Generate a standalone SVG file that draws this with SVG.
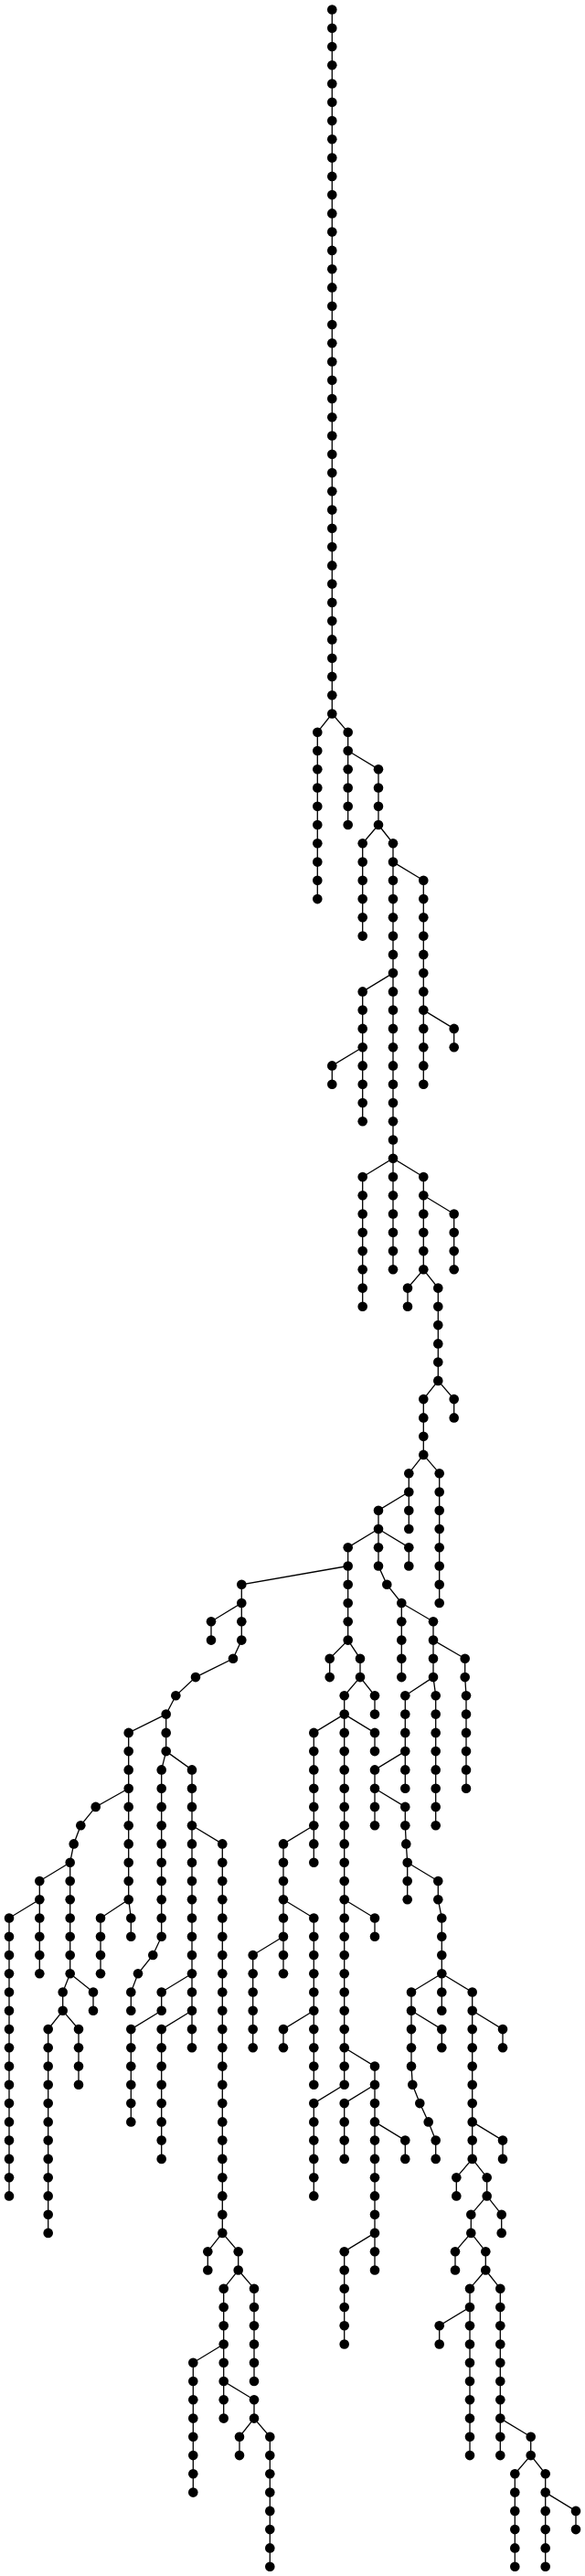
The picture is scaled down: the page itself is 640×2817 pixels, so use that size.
<svg xmlns="http://www.w3.org/2000/svg" width="640" height="2817" viewBox="0 0 640 2817">
<style>
.edges path{fill:none;stroke:#000;stroke-width:1.3}
.nodes circle{fill:#000;stroke:none}
</style>
<rect width="640" height="2817" fill="#fff"/>
<g class="edges" id="connectors">
<path d="M363.3 10.5V780.5"/>
<path d="M363.3 780.5L347.3 800.7V983.1"/>
<path d="M363.3 780.5L380.7 800.7V902"/>
<path d="M380.7 821L414 841.2V902"/>
<path d="M414 902L396.7 922.3V1023.6"/>
<path d="M414 902L430 922.3V1266.7"/>
<path d="M430 942.6L463.3 962.8V1185.7"/>
<path d="M463.3 1104.6L496.7 1124.9V1145.2"/>
<path d="M430 1064.1L396.7 1084.4V1226.2"/>
<path d="M396.7 1145.2L363.3 1165.4V1185.7"/>
<path d="M430 1266.7L396.7 1287V1428.8"/>
<path d="M430 1266.7V1388.3"/>
<path d="M430 1266.7L463.3 1287V1388.3"/>
<path d="M463.3 1307.3L496.7 1327.5V1388.3"/>
<path d="M463.3 1388.3L446 1408.6V1428.8"/>
<path d="M463.3 1388.3L479.3 1408.6V1509.9"/>
<path d="M479.3 1509.9L463.3 1530.1V1590.9"/>
<path d="M479.3 1509.9L496.7 1530.1V1550.4"/>
<path d="M463.3 1590.9L447.3 1611.2V1672"/>
<path d="M463.3 1590.9L480.7 1611.2V1753"/>
<path d="M447.3 1631.5L414 1651.7V1672"/>
<path d="M414 1672L380.7 1692.2V1793.6"/>
<path d="M414 1672V1712.5L423.3 1732.8L439.3 1753V1834.1"/>
<path d="M414 1672L447.3 1692.2V1712.5"/>
<path d="M439.3 1753L474 1773.3V1834.1"/>
<path d="M474 1793.6L508.7 1813.8V1834.1L510 1854.3V1955.7"/>
<path d="M474 1834.1L443.3 1854.3V1955.7"/>
<path d="M474 1834.1L476.7 1854.3V1996.2"/>
<path d="M443.3 1915.1L410 1935.4V1996.2"/>
<path d="M410 1955.7L443.3 1975.9V1996.2L444.3 2016.4L445.7 2036.7V2077.2"/>
<path d="M445.7 2036.7L479.3 2057V2077.2L483.3 2097.5V2158.3"/>
<path d="M380.7 1793.6L360.7 1813.8V1834.1"/>
<path d="M380.7 1793.6L394 1813.8V1834.1"/>
<path d="M394 1834.1L376.7 1854.3V1874.6"/>
<path d="M394 1834.1L410 1854.3V1874.6"/>
<path d="M376.7 1874.6L343.3 1894.9V2036.7"/>
<path d="M376.7 1874.6V2279.8"/>
<path d="M376.7 1874.6L410 1894.9V1915.1"/>
<path d="M343.3 1996.2L310 2016.4V2158.3"/>
<path d="M380.7 1712.5L264.3 1732.8V1793.6L255 1813.8L214 1834.1L192.3 1854.3L181.7 1874.6V1915.1"/>
<path d="M264.3 1753L231 1773.3V1793.6"/>
<path d="M181.7 1874.6L140.7 1894.9V2077.2"/>
<path d="M181.7 1915.1L176.7 1935.4V2117.7L167.3 2138L151 2158.3L143.3 2178.5V2198.8"/>
<path d="M181.7 1915.1L210 1935.4V2239.3"/>
<path d="M210 1996.2L243.3 2016.4V2441.9"/>
<path d="M140.7 1955.7L104.7 1975.9L88.3 1996.2L80.7 2016.4L76.7 2036.7V2158.3"/>
<path d="M76.7 2036.7L43.3 2057V2158.3"/>
<path d="M43.3 2077.2L10 2097.5V2401.4"/>
<path d="M76.7 2158.3L68.7 2178.5V2198.8"/>
<path d="M76.7 2158.3L102 2178.5V2198.8"/>
<path d="M68.7 2198.8L52.7 2219.1V2441.9"/>
<path d="M68.7 2198.8L86 2219.1V2279.8"/>
<path d="M140.7 2077.2L110 2097.5V2158.3"/>
<path d="M140.7 2077.2L143.3 2097.5V2117.7"/>
<path d="M210 2158.3L176.7 2178.5V2198.8"/>
<path d="M176.7 2198.8L143.3 2219.1V2320.4"/>
<path d="M210 2198.8L176.7 2219.1V2360.9"/>
<path d="M310 2077.2L343.3 2097.5V2279.8"/>
<path d="M310 2117.7L276.7 2138V2239.3"/>
<path d="M343.3 2198.8L310 2219.1V2239.3"/>
<path d="M376.7 2077.2L410 2097.5V2117.7"/>
<path d="M376.7 2239.3L410 2259.6V2482.5"/>
<path d="M376.7 2279.8L343.3 2300.1V2401.4"/>
<path d="M410 2279.8L376.7 2300.1V2360.9"/>
<path d="M410 2320.4L443.3 2340.6V2360.9"/>
<path d="M410 2441.9L376.7 2462.2V2563.5"/>
<path d="M483.3 2158.3L450 2178.5V2259.6L451.3 2279.8L459.3 2300.1L468.7 2320.4L476.7 2340.6V2360.9"/>
<path d="M450 2198.8L483.3 2219.1V2239.3"/>
<path d="M483.3 2158.3V2198.8"/>
<path d="M483.3 2158.3L516.7 2178.5V2360.9"/>
<path d="M516.7 2198.8L550 2219.1V2239.3"/>
<path d="M516.7 2320.4L550 2340.6V2360.9"/>
<path d="M516.7 2360.9L499.3 2381.2V2401.4"/>
<path d="M516.7 2360.9L532.7 2381.2V2401.4"/>
<path d="M532.7 2401.4L515.3 2421.7V2441.9"/>
<path d="M532.7 2401.4L548.7 2421.7V2441.9"/>
<path d="M515.3 2441.9L498 2462.2V2482.5"/>
<path d="M515.3 2441.9L531.3 2462.2V2482.5"/>
<path d="M531.3 2482.5L514 2502.7V2685.1"/>
<path d="M514 2523L480.7 2543.2V2563.5"/>
<path d="M531.3 2482.5L547.3 2502.7V2685.1"/>
<path d="M547.3 2644.6L580.7 2664.8V2685.1"/>
<path d="M580.7 2685.1L563.3 2705.3V2806.7"/>
<path d="M580.7 2685.1L596.7 2705.3V2806.7"/>
<path d="M596.7 2725.6L630 2745.9V2766.1"/>
<path d="M243.3 2441.9L227.3 2462.2V2482.5"/>
<path d="M243.3 2441.9L260.7 2462.2V2482.5"/>
<path d="M260.7 2482.5L244.7 2502.7V2644.6"/>
<path d="M260.7 2482.5L278 2502.7V2604"/>
<path d="M244.7 2563.5L211.3 2583.8V2725.6"/>
<path d="M244.7 2604L278 2624.3V2644.6"/>
<path d="M278 2644.6L262 2664.8V2685.1"/>
<path d="M278 2644.6L295.3 2664.8V2806.7"/>
</g>
<g class="nodes" id="nodes">
<g id="n1"><circle cx="363.3" cy="10.5" r="5.3"/></g>
<g id="n2"><circle cx="363.3" cy="30.8" r="5.3"/></g>
<g id="n3"><circle cx="363.3" cy="51" r="5.3"/></g>
<g id="n4"><circle cx="363.3" cy="71.3" r="5.3"/></g>
<g id="n5"><circle cx="363.3" cy="91.5" r="5.3"/></g>
<g id="n6"><circle cx="363.3" cy="111.8" r="5.3"/></g>
<g id="n7"><circle cx="363.3" cy="132.1" r="5.3"/></g>
<g id="n8"><circle cx="363.3" cy="152.3" r="5.3"/></g>
<g id="n9"><circle cx="363.3" cy="172.6" r="5.3"/></g>
<g id="n10"><circle cx="363.3" cy="192.9" r="5.3"/></g>
<g id="n11"><circle cx="363.3" cy="213.1" r="5.3"/></g>
<g id="n12"><circle cx="363.3" cy="233.4" r="5.3"/></g>
<g id="n13"><circle cx="363.3" cy="253.6" r="5.3"/></g>
<g id="n14"><circle cx="363.3" cy="273.9" r="5.3"/></g>
<g id="n15"><circle cx="363.3" cy="294.2" r="5.3"/></g>
<g id="n16"><circle cx="363.3" cy="314.4" r="5.3"/></g>
<g id="n17"><circle cx="363.3" cy="334.7" r="5.3"/></g>
<g id="n18"><circle cx="363.3" cy="355" r="5.3"/></g>
<g id="n19"><circle cx="363.3" cy="375.2" r="5.3"/></g>
<g id="n20"><circle cx="363.3" cy="395.5" r="5.3"/></g>
<g id="n21"><circle cx="363.3" cy="415.7" r="5.3"/></g>
<g id="n22"><circle cx="363.3" cy="436" r="5.3"/></g>
<g id="n23"><circle cx="363.3" cy="456.3" r="5.3"/></g>
<g id="n24"><circle cx="363.3" cy="476.5" r="5.3"/></g>
<g id="n25"><circle cx="363.3" cy="496.8" r="5.3"/></g>
<g id="n26"><circle cx="363.3" cy="517.1" r="5.3"/></g>
<g id="n27"><circle cx="363.3" cy="537.3" r="5.3"/></g>
<g id="n28"><circle cx="363.3" cy="557.6" r="5.3"/></g>
<g id="n29"><circle cx="363.3" cy="577.8" r="5.3"/></g>
<g id="n30"><circle cx="363.3" cy="598.1" r="5.3"/></g>
<g id="n31"><circle cx="363.3" cy="618.4" r="5.3"/></g>
<g id="n32"><circle cx="363.3" cy="638.6" r="5.3"/></g>
<g id="n33"><circle cx="363.3" cy="658.9" r="5.3"/></g>
<g id="n34"><circle cx="363.3" cy="679.1" r="5.3"/></g>
<g id="n35"><circle cx="363.3" cy="699.4" r="5.3"/></g>
<g id="n36"><circle cx="363.3" cy="719.7" r="5.3"/></g>
<g id="n37"><circle cx="363.3" cy="739.9" r="5.3"/></g>
<g id="n38"><circle cx="363.3" cy="760.2" r="5.3"/></g>
<g id="n39"><circle cx="363.3" cy="780.5" r="5.3"/></g>
<g id="n40"><circle cx="347.3" cy="800.7" r="5.3"/></g>
<g id="n41"><circle cx="347.3" cy="821" r="5.3"/></g>
<g id="n42"><circle cx="347.3" cy="841.2" r="5.3"/></g>
<g id="n43"><circle cx="347.3" cy="861.5" r="5.3"/></g>
<g id="n44"><circle cx="347.3" cy="881.8" r="5.3"/></g>
<g id="n45"><circle cx="347.3" cy="902" r="5.3"/></g>
<g id="n46"><circle cx="347.3" cy="922.3" r="5.3"/></g>
<g id="n47"><circle cx="347.3" cy="942.6" r="5.3"/></g>
<g id="n48"><circle cx="347.3" cy="962.8" r="5.3"/></g>
<g id="n49"><circle cx="347.3" cy="983.1" r="5.3"/></g>
<g id="n50"><circle cx="380.7" cy="800.7" r="5.3"/></g>
<g id="n51"><circle cx="380.7" cy="821" r="5.3"/></g>
<g id="n52"><circle cx="380.7" cy="841.2" r="5.3"/></g>
<g id="n53"><circle cx="380.7" cy="861.5" r="5.3"/></g>
<g id="n54"><circle cx="380.7" cy="881.8" r="5.3"/></g>
<g id="n55"><circle cx="380.7" cy="902" r="5.3"/></g>
<g id="n56"><circle cx="414" cy="841.2" r="5.3"/></g>
<g id="n57"><circle cx="414" cy="861.5" r="5.3"/></g>
<g id="n58"><circle cx="414" cy="881.8" r="5.3"/></g>
<g id="n59"><circle cx="414" cy="902" r="5.3"/></g>
<g id="n60"><circle cx="396.7" cy="922.3" r="5.3"/></g>
<g id="n61"><circle cx="396.7" cy="942.6" r="5.3"/></g>
<g id="n62"><circle cx="396.7" cy="962.8" r="5.3"/></g>
<g id="n63"><circle cx="396.7" cy="983.1" r="5.3"/></g>
<g id="n64"><circle cx="396.7" cy="1003.3" r="5.3"/></g>
<g id="n65"><circle cx="396.7" cy="1023.6" r="5.3"/></g>
<g id="n66"><circle cx="430" cy="922.3" r="5.3"/></g>
<g id="n67"><circle cx="430" cy="942.6" r="5.3"/></g>
<g id="n68"><circle cx="430" cy="962.8" r="5.3"/></g>
<g id="n69"><circle cx="430" cy="983.1" r="5.3"/></g>
<g id="n70"><circle cx="430" cy="1003.3" r="5.3"/></g>
<g id="n71"><circle cx="430" cy="1023.6" r="5.3"/></g>
<g id="n72"><circle cx="430" cy="1043.9" r="5.3"/></g>
<g id="n73"><circle cx="430" cy="1064.1" r="5.3"/></g>
<g id="n74"><circle cx="430" cy="1084.4" r="5.3"/></g>
<g id="n75"><circle cx="430" cy="1104.6" r="5.3"/></g>
<g id="n76"><circle cx="430" cy="1124.9" r="5.3"/></g>
<g id="n77"><circle cx="430" cy="1145.2" r="5.3"/></g>
<g id="n78"><circle cx="430" cy="1165.4" r="5.3"/></g>
<g id="n79"><circle cx="430" cy="1185.7" r="5.3"/></g>
<g id="n80"><circle cx="430" cy="1206" r="5.3"/></g>
<g id="n81"><circle cx="430" cy="1226.2" r="5.3"/></g>
<g id="n82"><circle cx="430" cy="1246.5" r="5.3"/></g>
<g id="n83"><circle cx="430" cy="1266.7" r="5.3"/></g>
<g id="n84"><circle cx="463.3" cy="962.8" r="5.3"/></g>
<g id="n85"><circle cx="463.3" cy="983.1" r="5.3"/></g>
<g id="n86"><circle cx="463.3" cy="1003.3" r="5.3"/></g>
<g id="n87"><circle cx="463.3" cy="1023.6" r="5.3"/></g>
<g id="n88"><circle cx="463.3" cy="1043.9" r="5.3"/></g>
<g id="n89"><circle cx="463.3" cy="1064.1" r="5.3"/></g>
<g id="n90"><circle cx="463.3" cy="1084.4" r="5.3"/></g>
<g id="n91"><circle cx="463.3" cy="1104.6" r="5.3"/></g>
<g id="n92"><circle cx="463.3" cy="1124.9" r="5.3"/></g>
<g id="n93"><circle cx="463.3" cy="1145.2" r="5.3"/></g>
<g id="n94"><circle cx="463.3" cy="1165.4" r="5.3"/></g>
<g id="n95"><circle cx="463.3" cy="1185.7" r="5.3"/></g>
<g id="n96"><circle cx="496.7" cy="1124.9" r="5.3"/></g>
<g id="n97"><circle cx="496.7" cy="1145.2" r="5.3"/></g>
<g id="n98"><circle cx="396.7" cy="1084.4" r="5.3"/></g>
<g id="n99"><circle cx="396.7" cy="1104.6" r="5.3"/></g>
<g id="n100"><circle cx="396.7" cy="1124.9" r="5.3"/></g>
<g id="n101"><circle cx="396.7" cy="1145.2" r="5.3"/></g>
<g id="n102"><circle cx="396.7" cy="1165.4" r="5.3"/></g>
<g id="n103"><circle cx="396.7" cy="1185.7" r="5.3"/></g>
<g id="n104"><circle cx="396.7" cy="1206" r="5.3"/></g>
<g id="n105"><circle cx="396.7" cy="1226.2" r="5.3"/></g>
<g id="n106"><circle cx="363.3" cy="1165.4" r="5.3"/></g>
<g id="n107"><circle cx="363.3" cy="1185.7" r="5.3"/></g>
<g id="n108"><circle cx="396.7" cy="1287" r="5.3"/></g>
<g id="n109"><circle cx="396.7" cy="1307.3" r="5.3"/></g>
<g id="n110"><circle cx="396.7" cy="1327.5" r="5.3"/></g>
<g id="n111"><circle cx="396.7" cy="1347.8" r="5.3"/></g>
<g id="n112"><circle cx="396.7" cy="1368.1" r="5.3"/></g>
<g id="n113"><circle cx="396.7" cy="1388.3" r="5.3"/></g>
<g id="n114"><circle cx="396.7" cy="1408.6" r="5.3"/></g>
<g id="n115"><circle cx="396.7" cy="1428.8" r="5.3"/></g>
<g id="n116"><circle cx="430" cy="1287" r="5.3"/></g>
<g id="n117"><circle cx="430" cy="1307.3" r="5.3"/></g>
<g id="n118"><circle cx="430" cy="1327.5" r="5.3"/></g>
<g id="n119"><circle cx="430" cy="1347.8" r="5.3"/></g>
<g id="n120"><circle cx="430" cy="1368.1" r="5.3"/></g>
<g id="n121"><circle cx="430" cy="1388.3" r="5.3"/></g>
<g id="n122"><circle cx="463.3" cy="1287" r="5.3"/></g>
<g id="n123"><circle cx="463.3" cy="1307.3" r="5.3"/></g>
<g id="n124"><circle cx="463.3" cy="1327.5" r="5.3"/></g>
<g id="n125"><circle cx="463.3" cy="1347.8" r="5.3"/></g>
<g id="n126"><circle cx="463.3" cy="1368.1" r="5.3"/></g>
<g id="n127"><circle cx="463.3" cy="1388.3" r="5.3"/></g>
<g id="n128"><circle cx="496.7" cy="1327.5" r="5.3"/></g>
<g id="n129"><circle cx="496.7" cy="1347.8" r="5.3"/></g>
<g id="n130"><circle cx="496.7" cy="1368.1" r="5.3"/></g>
<g id="n131"><circle cx="496.7" cy="1388.3" r="5.3"/></g>
<g id="n132"><circle cx="446" cy="1408.6" r="5.3"/></g>
<g id="n133"><circle cx="446" cy="1428.8" r="5.3"/></g>
<g id="n134"><circle cx="479.3" cy="1408.6" r="5.3"/></g>
<g id="n135"><circle cx="479.3" cy="1428.8" r="5.3"/></g>
<g id="n136"><circle cx="479.3" cy="1449.1" r="5.3"/></g>
<g id="n137"><circle cx="479.3" cy="1469.4" r="5.3"/></g>
<g id="n138"><circle cx="479.3" cy="1489.6" r="5.3"/></g>
<g id="n139"><circle cx="479.3" cy="1509.9" r="5.3"/></g>
<g id="n140"><circle cx="463.3" cy="1530.1" r="5.3"/></g>
<g id="n141"><circle cx="463.3" cy="1550.4" r="5.3"/></g>
<g id="n142"><circle cx="463.3" cy="1570.7" r="5.3"/></g>
<g id="n143"><circle cx="463.3" cy="1590.9" r="5.3"/></g>
<g id="n144"><circle cx="496.7" cy="1530.1" r="5.3"/></g>
<g id="n145"><circle cx="496.7" cy="1550.4" r="5.3"/></g>
<g id="n146"><circle cx="447.3" cy="1611.2" r="5.3"/></g>
<g id="n147"><circle cx="447.3" cy="1631.5" r="5.3"/></g>
<g id="n148"><circle cx="447.3" cy="1651.7" r="5.3"/></g>
<g id="n149"><circle cx="447.3" cy="1672" r="5.3"/></g>
<g id="n150"><circle cx="480.7" cy="1611.2" r="5.3"/></g>
<g id="n151"><circle cx="480.7" cy="1631.5" r="5.3"/></g>
<g id="n152"><circle cx="480.7" cy="1651.7" r="5.3"/></g>
<g id="n153"><circle cx="480.7" cy="1672" r="5.3"/></g>
<g id="n154"><circle cx="480.7" cy="1692.2" r="5.3"/></g>
<g id="n155"><circle cx="480.7" cy="1712.5" r="5.3"/></g>
<g id="n156"><circle cx="480.7" cy="1732.8" r="5.3"/></g>
<g id="n157"><circle cx="480.7" cy="1753" r="5.3"/></g>
<g id="n158"><circle cx="414" cy="1651.7" r="5.3"/></g>
<g id="n159"><circle cx="414" cy="1672" r="5.3"/></g>
<g id="n160"><circle cx="380.7" cy="1692.2" r="5.3"/></g>
<g id="n161"><circle cx="380.7" cy="1712.5" r="5.3"/></g>
<g id="n162"><circle cx="380.7" cy="1732.8" r="5.3"/></g>
<g id="n163"><circle cx="380.7" cy="1753" r="5.3"/></g>
<g id="n164"><circle cx="380.7" cy="1773.3" r="5.3"/></g>
<g id="n165"><circle cx="380.7" cy="1793.6" r="5.3"/></g>
<g id="n166"><circle cx="414" cy="1692.2" r="5.3"/></g>
<g id="n167"><circle cx="414" cy="1712.5" r="5.3"/></g>
<g id="n168"><circle cx="423.3" cy="1732.8" r="5.3"/></g>
<g id="n169"><circle cx="439.3" cy="1753" r="5.3"/></g>
<g id="n170"><circle cx="439.3" cy="1773.3" r="5.3"/></g>
<g id="n171"><circle cx="439.3" cy="1793.6" r="5.3"/></g>
<g id="n172"><circle cx="439.3" cy="1813.8" r="5.3"/></g>
<g id="n173"><circle cx="439.3" cy="1834.1" r="5.3"/></g>
<g id="n174"><circle cx="447.3" cy="1692.2" r="5.3"/></g>
<g id="n175"><circle cx="447.3" cy="1712.5" r="5.3"/></g>
<g id="n176"><circle cx="474" cy="1773.3" r="5.3"/></g>
<g id="n177"><circle cx="474" cy="1793.6" r="5.3"/></g>
<g id="n178"><circle cx="474" cy="1813.8" r="5.3"/></g>
<g id="n179"><circle cx="474" cy="1834.1" r="5.3"/></g>
<g id="n180"><circle cx="508.7" cy="1813.8" r="5.3"/></g>
<g id="n181"><circle cx="508.7" cy="1834.1" r="5.3"/></g>
<g id="n182"><circle cx="510" cy="1854.3" r="5.3"/></g>
<g id="n183"><circle cx="510" cy="1874.6" r="5.3"/></g>
<g id="n184"><circle cx="510" cy="1894.9" r="5.3"/></g>
<g id="n185"><circle cx="510" cy="1915.1" r="5.3"/></g>
<g id="n186"><circle cx="510" cy="1935.4" r="5.3"/></g>
<g id="n187"><circle cx="510" cy="1955.7" r="5.3"/></g>
<g id="n188"><circle cx="443.3" cy="1854.3" r="5.3"/></g>
<g id="n189"><circle cx="443.3" cy="1874.6" r="5.3"/></g>
<g id="n190"><circle cx="443.3" cy="1894.9" r="5.3"/></g>
<g id="n191"><circle cx="443.3" cy="1915.1" r="5.3"/></g>
<g id="n192"><circle cx="443.3" cy="1935.4" r="5.3"/></g>
<g id="n193"><circle cx="443.3" cy="1955.7" r="5.3"/></g>
<g id="n194"><circle cx="476.7" cy="1854.3" r="5.3"/></g>
<g id="n195"><circle cx="476.7" cy="1874.6" r="5.3"/></g>
<g id="n196"><circle cx="476.7" cy="1894.9" r="5.3"/></g>
<g id="n197"><circle cx="476.7" cy="1915.1" r="5.3"/></g>
<g id="n198"><circle cx="476.7" cy="1935.4" r="5.3"/></g>
<g id="n199"><circle cx="476.7" cy="1955.7" r="5.3"/></g>
<g id="n200"><circle cx="476.7" cy="1975.9" r="5.3"/></g>
<g id="n201"><circle cx="476.7" cy="1996.2" r="5.3"/></g>
<g id="n202"><circle cx="410" cy="1935.4" r="5.3"/></g>
<g id="n203"><circle cx="410" cy="1955.7" r="5.3"/></g>
<g id="n204"><circle cx="410" cy="1975.9" r="5.3"/></g>
<g id="n205"><circle cx="410" cy="1996.2" r="5.3"/></g>
<g id="n206"><circle cx="443.3" cy="1975.9" r="5.3"/></g>
<g id="n207"><circle cx="443.3" cy="1996.2" r="5.3"/></g>
<g id="n208"><circle cx="444.3" cy="2016.4" r="5.3"/></g>
<g id="n209"><circle cx="445.7" cy="2036.7" r="5.3"/></g>
<g id="n210"><circle cx="445.7" cy="2057" r="5.3"/></g>
<g id="n211"><circle cx="445.7" cy="2077.2" r="5.3"/></g>
<g id="n212"><circle cx="479.3" cy="2057" r="5.3"/></g>
<g id="n213"><circle cx="479.3" cy="2077.2" r="5.3"/></g>
<g id="n214"><circle cx="483.3" cy="2097.5" r="5.3"/></g>
<g id="n215"><circle cx="483.3" cy="2117.7" r="5.3"/></g>
<g id="n216"><circle cx="483.3" cy="2138" r="5.3"/></g>
<g id="n217"><circle cx="483.3" cy="2158.3" r="5.3"/></g>
<g id="n218"><circle cx="360.7" cy="1813.8" r="5.3"/></g>
<g id="n219"><circle cx="360.7" cy="1834.1" r="5.3"/></g>
<g id="n220"><circle cx="394" cy="1813.8" r="5.3"/></g>
<g id="n221"><circle cx="394" cy="1834.1" r="5.3"/></g>
<g id="n222"><circle cx="376.7" cy="1854.3" r="5.3"/></g>
<g id="n223"><circle cx="376.7" cy="1874.6" r="5.3"/></g>
<g id="n224"><circle cx="410" cy="1854.3" r="5.3"/></g>
<g id="n225"><circle cx="410" cy="1874.6" r="5.3"/></g>
<g id="n226"><circle cx="343.3" cy="1894.9" r="5.3"/></g>
<g id="n227"><circle cx="343.3" cy="1915.1" r="5.3"/></g>
<g id="n228"><circle cx="343.3" cy="1935.4" r="5.3"/></g>
<g id="n229"><circle cx="343.3" cy="1955.7" r="5.3"/></g>
<g id="n230"><circle cx="343.3" cy="1975.9" r="5.3"/></g>
<g id="n231"><circle cx="343.3" cy="1996.2" r="5.3"/></g>
<g id="n232"><circle cx="343.3" cy="2016.4" r="5.3"/></g>
<g id="n233"><circle cx="343.3" cy="2036.7" r="5.3"/></g>
<g id="n234"><circle cx="376.7" cy="1894.9" r="5.3"/></g>
<g id="n235"><circle cx="376.7" cy="1915.1" r="5.3"/></g>
<g id="n236"><circle cx="376.7" cy="1935.4" r="5.3"/></g>
<g id="n237"><circle cx="376.7" cy="1955.7" r="5.3"/></g>
<g id="n238"><circle cx="376.7" cy="1975.9" r="5.3"/></g>
<g id="n239"><circle cx="376.7" cy="1996.2" r="5.3"/></g>
<g id="n240"><circle cx="376.7" cy="2016.4" r="5.3"/></g>
<g id="n241"><circle cx="376.7" cy="2036.7" r="5.3"/></g>
<g id="n242"><circle cx="376.7" cy="2057" r="5.3"/></g>
<g id="n243"><circle cx="376.7" cy="2077.2" r="5.3"/></g>
<g id="n244"><circle cx="376.7" cy="2097.5" r="5.3"/></g>
<g id="n245"><circle cx="376.7" cy="2117.7" r="5.3"/></g>
<g id="n246"><circle cx="376.7" cy="2138" r="5.3"/></g>
<g id="n247"><circle cx="376.7" cy="2158.3" r="5.3"/></g>
<g id="n248"><circle cx="376.7" cy="2178.5" r="5.3"/></g>
<g id="n249"><circle cx="376.7" cy="2198.8" r="5.3"/></g>
<g id="n250"><circle cx="376.7" cy="2219.1" r="5.3"/></g>
<g id="n251"><circle cx="376.7" cy="2239.3" r="5.3"/></g>
<g id="n252"><circle cx="376.7" cy="2259.6" r="5.3"/></g>
<g id="n253"><circle cx="376.7" cy="2279.8" r="5.3"/></g>
<g id="n254"><circle cx="410" cy="1894.9" r="5.3"/></g>
<g id="n255"><circle cx="410" cy="1915.1" r="5.3"/></g>
<g id="n256"><circle cx="310" cy="2016.4" r="5.3"/></g>
<g id="n257"><circle cx="310" cy="2036.7" r="5.3"/></g>
<g id="n258"><circle cx="310" cy="2057" r="5.3"/></g>
<g id="n259"><circle cx="310" cy="2077.2" r="5.3"/></g>
<g id="n260"><circle cx="310" cy="2097.5" r="5.3"/></g>
<g id="n261"><circle cx="310" cy="2117.7" r="5.3"/></g>
<g id="n262"><circle cx="310" cy="2138" r="5.3"/></g>
<g id="n263"><circle cx="310" cy="2158.3" r="5.3"/></g>
<g id="n264"><circle cx="264.3" cy="1732.8" r="5.3"/></g>
<g id="n265"><circle cx="264.3" cy="1753" r="5.3"/></g>
<g id="n266"><circle cx="264.3" cy="1773.3" r="5.3"/></g>
<g id="n267"><circle cx="264.3" cy="1793.6" r="5.3"/></g>
<g id="n268"><circle cx="255" cy="1813.8" r="5.3"/></g>
<g id="n269"><circle cx="214" cy="1834.1" r="5.3"/></g>
<g id="n270"><circle cx="192.3" cy="1854.3" r="5.3"/></g>
<g id="n271"><circle cx="181.7" cy="1874.6" r="5.3"/></g>
<g id="n272"><circle cx="181.7" cy="1894.9" r="5.3"/></g>
<g id="n273"><circle cx="181.7" cy="1915.1" r="5.3"/></g>
<g id="n274"><circle cx="231" cy="1773.3" r="5.3"/></g>
<g id="n275"><circle cx="231" cy="1793.6" r="5.3"/></g>
<g id="n276"><circle cx="140.7" cy="1894.9" r="5.3"/></g>
<g id="n277"><circle cx="140.7" cy="1915.1" r="5.3"/></g>
<g id="n278"><circle cx="140.7" cy="1935.4" r="5.3"/></g>
<g id="n279"><circle cx="140.7" cy="1955.7" r="5.3"/></g>
<g id="n280"><circle cx="140.7" cy="1975.9" r="5.3"/></g>
<g id="n281"><circle cx="140.7" cy="1996.2" r="5.3"/></g>
<g id="n282"><circle cx="140.7" cy="2016.4" r="5.3"/></g>
<g id="n283"><circle cx="140.7" cy="2036.7" r="5.3"/></g>
<g id="n284"><circle cx="140.7" cy="2057" r="5.3"/></g>
<g id="n285"><circle cx="140.7" cy="2077.2" r="5.3"/></g>
<g id="n286"><circle cx="176.7" cy="1935.4" r="5.3"/></g>
<g id="n287"><circle cx="176.7" cy="1955.7" r="5.3"/></g>
<g id="n288"><circle cx="176.7" cy="1975.9" r="5.3"/></g>
<g id="n289"><circle cx="176.7" cy="1996.2" r="5.3"/></g>
<g id="n290"><circle cx="176.7" cy="2016.4" r="5.3"/></g>
<g id="n291"><circle cx="176.7" cy="2036.7" r="5.3"/></g>
<g id="n292"><circle cx="176.7" cy="2057" r="5.3"/></g>
<g id="n293"><circle cx="176.7" cy="2077.2" r="5.3"/></g>
<g id="n294"><circle cx="176.7" cy="2097.5" r="5.3"/></g>
<g id="n295"><circle cx="176.7" cy="2117.7" r="5.3"/></g>
<g id="n296"><circle cx="167.3" cy="2138" r="5.3"/></g>
<g id="n297"><circle cx="151" cy="2158.3" r="5.3"/></g>
<g id="n298"><circle cx="143.3" cy="2178.5" r="5.3"/></g>
<g id="n299"><circle cx="143.3" cy="2198.8" r="5.3"/></g>
<g id="n300"><circle cx="210" cy="1935.4" r="5.3"/></g>
<g id="n301"><circle cx="210" cy="1955.7" r="5.3"/></g>
<g id="n302"><circle cx="210" cy="1975.9" r="5.3"/></g>
<g id="n303"><circle cx="210" cy="1996.2" r="5.3"/></g>
<g id="n304"><circle cx="210" cy="2016.4" r="5.3"/></g>
<g id="n305"><circle cx="210" cy="2036.7" r="5.3"/></g>
<g id="n306"><circle cx="210" cy="2057" r="5.3"/></g>
<g id="n307"><circle cx="210" cy="2077.2" r="5.3"/></g>
<g id="n308"><circle cx="210" cy="2097.5" r="5.3"/></g>
<g id="n309"><circle cx="210" cy="2117.7" r="5.3"/></g>
<g id="n310"><circle cx="210" cy="2138" r="5.3"/></g>
<g id="n311"><circle cx="210" cy="2158.3" r="5.3"/></g>
<g id="n312"><circle cx="210" cy="2178.5" r="5.3"/></g>
<g id="n313"><circle cx="210" cy="2198.8" r="5.3"/></g>
<g id="n314"><circle cx="210" cy="2219.1" r="5.3"/></g>
<g id="n315"><circle cx="210" cy="2239.3" r="5.3"/></g>
<g id="n316"><circle cx="243.3" cy="2016.4" r="5.3"/></g>
<g id="n317"><circle cx="243.3" cy="2036.7" r="5.3"/></g>
<g id="n318"><circle cx="243.3" cy="2057" r="5.3"/></g>
<g id="n319"><circle cx="243.3" cy="2077.2" r="5.3"/></g>
<g id="n320"><circle cx="243.3" cy="2097.5" r="5.3"/></g>
<g id="n321"><circle cx="243.3" cy="2117.7" r="5.3"/></g>
<g id="n322"><circle cx="243.3" cy="2138" r="5.3"/></g>
<g id="n323"><circle cx="243.3" cy="2158.3" r="5.3"/></g>
<g id="n324"><circle cx="243.3" cy="2178.5" r="5.3"/></g>
<g id="n325"><circle cx="243.3" cy="2198.8" r="5.3"/></g>
<g id="n326"><circle cx="243.3" cy="2219.1" r="5.3"/></g>
<g id="n327"><circle cx="243.3" cy="2239.3" r="5.3"/></g>
<g id="n328"><circle cx="243.3" cy="2259.6" r="5.3"/></g>
<g id="n329"><circle cx="243.3" cy="2279.8" r="5.3"/></g>
<g id="n330"><circle cx="243.3" cy="2300.1" r="5.3"/></g>
<g id="n331"><circle cx="243.3" cy="2320.4" r="5.3"/></g>
<g id="n332"><circle cx="243.3" cy="2340.6" r="5.3"/></g>
<g id="n333"><circle cx="243.3" cy="2360.9" r="5.3"/></g>
<g id="n334"><circle cx="243.3" cy="2381.2" r="5.3"/></g>
<g id="n335"><circle cx="243.3" cy="2401.4" r="5.3"/></g>
<g id="n336"><circle cx="243.3" cy="2421.7" r="5.3"/></g>
<g id="n337"><circle cx="243.3" cy="2441.9" r="5.3"/></g>
<g id="n338"><circle cx="104.7" cy="1975.9" r="5.3"/></g>
<g id="n339"><circle cx="88.3" cy="1996.2" r="5.3"/></g>
<g id="n340"><circle cx="80.7" cy="2016.4" r="5.3"/></g>
<g id="n341"><circle cx="76.7" cy="2036.7" r="5.3"/></g>
<g id="n342"><circle cx="76.7" cy="2057" r="5.3"/></g>
<g id="n343"><circle cx="76.7" cy="2077.2" r="5.3"/></g>
<g id="n344"><circle cx="76.7" cy="2097.5" r="5.3"/></g>
<g id="n345"><circle cx="76.7" cy="2117.7" r="5.3"/></g>
<g id="n346"><circle cx="76.7" cy="2138" r="5.3"/></g>
<g id="n347"><circle cx="76.7" cy="2158.3" r="5.3"/></g>
<g id="n348"><circle cx="43.3" cy="2057" r="5.3"/></g>
<g id="n349"><circle cx="43.3" cy="2077.2" r="5.3"/></g>
<g id="n350"><circle cx="43.3" cy="2097.5" r="5.3"/></g>
<g id="n351"><circle cx="43.3" cy="2117.7" r="5.3"/></g>
<g id="n352"><circle cx="43.3" cy="2138" r="5.3"/></g>
<g id="n353"><circle cx="43.3" cy="2158.3" r="5.3"/></g>
<g id="n354"><circle cx="10" cy="2097.5" r="5.3"/></g>
<g id="n355"><circle cx="10" cy="2117.7" r="5.3"/></g>
<g id="n356"><circle cx="10" cy="2138" r="5.3"/></g>
<g id="n357"><circle cx="10" cy="2158.3" r="5.3"/></g>
<g id="n358"><circle cx="10" cy="2178.5" r="5.3"/></g>
<g id="n359"><circle cx="10" cy="2198.8" r="5.3"/></g>
<g id="n360"><circle cx="10" cy="2219.1" r="5.3"/></g>
<g id="n361"><circle cx="10" cy="2239.3" r="5.3"/></g>
<g id="n362"><circle cx="10" cy="2259.6" r="5.3"/></g>
<g id="n363"><circle cx="10" cy="2279.8" r="5.3"/></g>
<g id="n364"><circle cx="10" cy="2300.1" r="5.3"/></g>
<g id="n365"><circle cx="10" cy="2320.4" r="5.3"/></g>
<g id="n366"><circle cx="10" cy="2340.6" r="5.3"/></g>
<g id="n367"><circle cx="10" cy="2360.9" r="5.3"/></g>
<g id="n368"><circle cx="10" cy="2381.2" r="5.3"/></g>
<g id="n369"><circle cx="10" cy="2401.4" r="5.3"/></g>
<g id="n370"><circle cx="68.7" cy="2178.5" r="5.3"/></g>
<g id="n371"><circle cx="68.7" cy="2198.8" r="5.3"/></g>
<g id="n372"><circle cx="102" cy="2178.5" r="5.3"/></g>
<g id="n373"><circle cx="102" cy="2198.8" r="5.3"/></g>
<g id="n374"><circle cx="52.7" cy="2219.1" r="5.3"/></g>
<g id="n375"><circle cx="52.7" cy="2239.3" r="5.3"/></g>
<g id="n376"><circle cx="52.7" cy="2259.6" r="5.3"/></g>
<g id="n377"><circle cx="52.7" cy="2279.8" r="5.3"/></g>
<g id="n378"><circle cx="52.7" cy="2300.1" r="5.3"/></g>
<g id="n379"><circle cx="52.7" cy="2320.4" r="5.3"/></g>
<g id="n380"><circle cx="52.7" cy="2340.6" r="5.3"/></g>
<g id="n381"><circle cx="52.7" cy="2360.9" r="5.3"/></g>
<g id="n382"><circle cx="52.7" cy="2381.2" r="5.3"/></g>
<g id="n383"><circle cx="52.7" cy="2401.4" r="5.3"/></g>
<g id="n384"><circle cx="52.7" cy="2421.7" r="5.3"/></g>
<g id="n385"><circle cx="52.7" cy="2441.9" r="5.3"/></g>
<g id="n386"><circle cx="86" cy="2219.1" r="5.3"/></g>
<g id="n387"><circle cx="86" cy="2239.3" r="5.3"/></g>
<g id="n388"><circle cx="86" cy="2259.6" r="5.3"/></g>
<g id="n389"><circle cx="86" cy="2279.8" r="5.3"/></g>
<g id="n390"><circle cx="110" cy="2097.5" r="5.3"/></g>
<g id="n391"><circle cx="110" cy="2117.7" r="5.3"/></g>
<g id="n392"><circle cx="110" cy="2138" r="5.3"/></g>
<g id="n393"><circle cx="110" cy="2158.3" r="5.3"/></g>
<g id="n394"><circle cx="143.3" cy="2097.5" r="5.3"/></g>
<g id="n395"><circle cx="143.3" cy="2117.7" r="5.3"/></g>
<g id="n396"><circle cx="176.7" cy="2178.5" r="5.3"/></g>
<g id="n397"><circle cx="176.7" cy="2198.8" r="5.3"/></g>
<g id="n398"><circle cx="143.3" cy="2219.1" r="5.3"/></g>
<g id="n399"><circle cx="143.3" cy="2239.3" r="5.3"/></g>
<g id="n400"><circle cx="143.3" cy="2259.6" r="5.3"/></g>
<g id="n401"><circle cx="143.3" cy="2279.8" r="5.3"/></g>
<g id="n402"><circle cx="143.3" cy="2300.1" r="5.3"/></g>
<g id="n403"><circle cx="143.3" cy="2320.4" r="5.3"/></g>
<g id="n404"><circle cx="176.7" cy="2219.1" r="5.3"/></g>
<g id="n405"><circle cx="176.7" cy="2239.3" r="5.3"/></g>
<g id="n406"><circle cx="176.7" cy="2259.6" r="5.3"/></g>
<g id="n407"><circle cx="176.7" cy="2279.8" r="5.3"/></g>
<g id="n408"><circle cx="176.7" cy="2300.1" r="5.3"/></g>
<g id="n409"><circle cx="176.7" cy="2320.4" r="5.3"/></g>
<g id="n410"><circle cx="176.7" cy="2340.6" r="5.3"/></g>
<g id="n411"><circle cx="176.7" cy="2360.9" r="5.3"/></g>
<g id="n412"><circle cx="343.3" cy="2097.5" r="5.3"/></g>
<g id="n413"><circle cx="343.3" cy="2117.7" r="5.3"/></g>
<g id="n414"><circle cx="343.3" cy="2138" r="5.3"/></g>
<g id="n415"><circle cx="343.3" cy="2158.3" r="5.3"/></g>
<g id="n416"><circle cx="343.3" cy="2178.5" r="5.3"/></g>
<g id="n417"><circle cx="343.3" cy="2198.8" r="5.3"/></g>
<g id="n418"><circle cx="343.3" cy="2219.1" r="5.3"/></g>
<g id="n419"><circle cx="343.3" cy="2239.3" r="5.3"/></g>
<g id="n420"><circle cx="343.3" cy="2259.6" r="5.3"/></g>
<g id="n421"><circle cx="343.3" cy="2279.8" r="5.3"/></g>
<g id="n422"><circle cx="276.7" cy="2138" r="5.3"/></g>
<g id="n423"><circle cx="276.7" cy="2158.3" r="5.3"/></g>
<g id="n424"><circle cx="276.7" cy="2178.5" r="5.3"/></g>
<g id="n425"><circle cx="276.7" cy="2198.8" r="5.3"/></g>
<g id="n426"><circle cx="276.7" cy="2219.1" r="5.3"/></g>
<g id="n427"><circle cx="276.7" cy="2239.3" r="5.3"/></g>
<g id="n428"><circle cx="310" cy="2219.1" r="5.3"/></g>
<g id="n429"><circle cx="310" cy="2239.3" r="5.3"/></g>
<g id="n430"><circle cx="410" cy="2097.5" r="5.3"/></g>
<g id="n431"><circle cx="410" cy="2117.7" r="5.3"/></g>
<g id="n432"><circle cx="410" cy="2259.6" r="5.3"/></g>
<g id="n433"><circle cx="410" cy="2279.8" r="5.3"/></g>
<g id="n434"><circle cx="410" cy="2300.1" r="5.3"/></g>
<g id="n435"><circle cx="410" cy="2320.4" r="5.3"/></g>
<g id="n436"><circle cx="410" cy="2340.6" r="5.3"/></g>
<g id="n437"><circle cx="410" cy="2360.9" r="5.3"/></g>
<g id="n438"><circle cx="410" cy="2381.2" r="5.3"/></g>
<g id="n439"><circle cx="410" cy="2401.4" r="5.3"/></g>
<g id="n440"><circle cx="410" cy="2421.7" r="5.3"/></g>
<g id="n441"><circle cx="410" cy="2441.9" r="5.3"/></g>
<g id="n442"><circle cx="410" cy="2462.2" r="5.3"/></g>
<g id="n443"><circle cx="410" cy="2482.5" r="5.3"/></g>
<g id="n444"><circle cx="343.3" cy="2300.1" r="5.3"/></g>
<g id="n445"><circle cx="343.3" cy="2320.4" r="5.3"/></g>
<g id="n446"><circle cx="343.3" cy="2340.6" r="5.3"/></g>
<g id="n447"><circle cx="343.3" cy="2360.9" r="5.3"/></g>
<g id="n448"><circle cx="343.3" cy="2381.2" r="5.3"/></g>
<g id="n449"><circle cx="343.3" cy="2401.4" r="5.3"/></g>
<g id="n450"><circle cx="376.7" cy="2300.1" r="5.3"/></g>
<g id="n451"><circle cx="376.7" cy="2320.4" r="5.3"/></g>
<g id="n452"><circle cx="376.7" cy="2340.6" r="5.3"/></g>
<g id="n453"><circle cx="376.7" cy="2360.9" r="5.3"/></g>
<g id="n454"><circle cx="443.3" cy="2340.6" r="5.3"/></g>
<g id="n455"><circle cx="443.3" cy="2360.9" r="5.3"/></g>
<g id="n456"><circle cx="376.7" cy="2462.2" r="5.3"/></g>
<g id="n457"><circle cx="376.7" cy="2482.5" r="5.3"/></g>
<g id="n458"><circle cx="376.7" cy="2502.7" r="5.3"/></g>
<g id="n459"><circle cx="376.7" cy="2523" r="5.3"/></g>
<g id="n460"><circle cx="376.7" cy="2543.2" r="5.3"/></g>
<g id="n461"><circle cx="376.7" cy="2563.5" r="5.3"/></g>
<g id="n462"><circle cx="450" cy="2178.5" r="5.3"/></g>
<g id="n463"><circle cx="450" cy="2198.8" r="5.3"/></g>
<g id="n464"><circle cx="450" cy="2219.1" r="5.3"/></g>
<g id="n465"><circle cx="450" cy="2239.3" r="5.3"/></g>
<g id="n466"><circle cx="450" cy="2259.6" r="5.3"/></g>
<g id="n467"><circle cx="451.3" cy="2279.8" r="5.3"/></g>
<g id="n468"><circle cx="459.3" cy="2300.1" r="5.3"/></g>
<g id="n469"><circle cx="468.7" cy="2320.4" r="5.3"/></g>
<g id="n470"><circle cx="476.7" cy="2340.6" r="5.3"/></g>
<g id="n471"><circle cx="476.7" cy="2360.9" r="5.3"/></g>
<g id="n472"><circle cx="483.3" cy="2219.1" r="5.3"/></g>
<g id="n473"><circle cx="483.3" cy="2239.3" r="5.3"/></g>
<g id="n474"><circle cx="483.3" cy="2178.5" r="5.3"/></g>
<g id="n475"><circle cx="483.3" cy="2198.8" r="5.3"/></g>
<g id="n476"><circle cx="516.7" cy="2178.5" r="5.3"/></g>
<g id="n477"><circle cx="516.7" cy="2198.8" r="5.3"/></g>
<g id="n478"><circle cx="516.7" cy="2219.1" r="5.3"/></g>
<g id="n479"><circle cx="516.7" cy="2239.3" r="5.3"/></g>
<g id="n480"><circle cx="516.7" cy="2259.6" r="5.3"/></g>
<g id="n481"><circle cx="516.7" cy="2279.8" r="5.3"/></g>
<g id="n482"><circle cx="516.7" cy="2300.1" r="5.3"/></g>
<g id="n483"><circle cx="516.7" cy="2320.4" r="5.3"/></g>
<g id="n484"><circle cx="516.7" cy="2340.6" r="5.3"/></g>
<g id="n485"><circle cx="516.7" cy="2360.9" r="5.3"/></g>
<g id="n486"><circle cx="550" cy="2219.1" r="5.3"/></g>
<g id="n487"><circle cx="550" cy="2239.3" r="5.3"/></g>
<g id="n488"><circle cx="550" cy="2340.6" r="5.3"/></g>
<g id="n489"><circle cx="550" cy="2360.9" r="5.3"/></g>
<g id="n490"><circle cx="499.3" cy="2381.2" r="5.3"/></g>
<g id="n491"><circle cx="499.3" cy="2401.4" r="5.3"/></g>
<g id="n492"><circle cx="532.7" cy="2381.2" r="5.3"/></g>
<g id="n493"><circle cx="532.7" cy="2401.4" r="5.3"/></g>
<g id="n494"><circle cx="515.3" cy="2421.7" r="5.3"/></g>
<g id="n495"><circle cx="515.3" cy="2441.9" r="5.3"/></g>
<g id="n496"><circle cx="548.7" cy="2421.7" r="5.3"/></g>
<g id="n497"><circle cx="548.7" cy="2441.9" r="5.3"/></g>
<g id="n498"><circle cx="498" cy="2462.2" r="5.3"/></g>
<g id="n499"><circle cx="498" cy="2482.5" r="5.3"/></g>
<g id="n500"><circle cx="531.3" cy="2462.2" r="5.3"/></g>
<g id="n501"><circle cx="531.3" cy="2482.5" r="5.3"/></g>
<g id="n502"><circle cx="514" cy="2502.7" r="5.3"/></g>
<g id="n503"><circle cx="514" cy="2523" r="5.3"/></g>
<g id="n504"><circle cx="514" cy="2543.2" r="5.3"/></g>
<g id="n505"><circle cx="514" cy="2563.5" r="5.3"/></g>
<g id="n506"><circle cx="514" cy="2583.8" r="5.3"/></g>
<g id="n507"><circle cx="514" cy="2604" r="5.3"/></g>
<g id="n508"><circle cx="514" cy="2624.3" r="5.3"/></g>
<g id="n509"><circle cx="514" cy="2644.6" r="5.3"/></g>
<g id="n510"><circle cx="514" cy="2664.8" r="5.3"/></g>
<g id="n511"><circle cx="514" cy="2685.1" r="5.3"/></g>
<g id="n512"><circle cx="480.7" cy="2543.2" r="5.3"/></g>
<g id="n513"><circle cx="480.7" cy="2563.5" r="5.3"/></g>
<g id="n514"><circle cx="547.3" cy="2502.7" r="5.3"/></g>
<g id="n515"><circle cx="547.3" cy="2523" r="5.3"/></g>
<g id="n516"><circle cx="547.3" cy="2543.2" r="5.3"/></g>
<g id="n517"><circle cx="547.3" cy="2563.5" r="5.3"/></g>
<g id="n518"><circle cx="547.3" cy="2583.8" r="5.3"/></g>
<g id="n519"><circle cx="547.3" cy="2604" r="5.3"/></g>
<g id="n520"><circle cx="547.3" cy="2624.3" r="5.3"/></g>
<g id="n521"><circle cx="547.3" cy="2644.6" r="5.3"/></g>
<g id="n522"><circle cx="547.3" cy="2664.8" r="5.3"/></g>
<g id="n523"><circle cx="547.3" cy="2685.1" r="5.3"/></g>
<g id="n524"><circle cx="580.7" cy="2664.8" r="5.3"/></g>
<g id="n525"><circle cx="580.7" cy="2685.1" r="5.3"/></g>
<g id="n526"><circle cx="563.3" cy="2705.3" r="5.3"/></g>
<g id="n527"><circle cx="563.3" cy="2725.6" r="5.3"/></g>
<g id="n528"><circle cx="563.3" cy="2745.9" r="5.3"/></g>
<g id="n529"><circle cx="563.3" cy="2766.1" r="5.3"/></g>
<g id="n530"><circle cx="563.3" cy="2786.4" r="5.3"/></g>
<g id="n531"><circle cx="563.3" cy="2806.7" r="5.3"/></g>
<g id="n532"><circle cx="596.7" cy="2705.3" r="5.3"/></g>
<g id="n533"><circle cx="596.7" cy="2725.6" r="5.3"/></g>
<g id="n534"><circle cx="596.7" cy="2745.9" r="5.3"/></g>
<g id="n535"><circle cx="596.7" cy="2766.1" r="5.3"/></g>
<g id="n536"><circle cx="596.7" cy="2786.4" r="5.3"/></g>
<g id="n537"><circle cx="596.7" cy="2806.7" r="5.3"/></g>
<g id="n538"><circle cx="630" cy="2745.9" r="5.3"/></g>
<g id="n539"><circle cx="630" cy="2766.1" r="5.3"/></g>
<g id="n540"><circle cx="227.3" cy="2462.2" r="5.3"/></g>
<g id="n541"><circle cx="227.3" cy="2482.5" r="5.3"/></g>
<g id="n542"><circle cx="260.7" cy="2462.2" r="5.3"/></g>
<g id="n543"><circle cx="260.7" cy="2482.5" r="5.3"/></g>
<g id="n544"><circle cx="244.7" cy="2502.7" r="5.3"/></g>
<g id="n545"><circle cx="244.7" cy="2523" r="5.3"/></g>
<g id="n546"><circle cx="244.7" cy="2543.2" r="5.3"/></g>
<g id="n547"><circle cx="244.7" cy="2563.5" r="5.3"/></g>
<g id="n548"><circle cx="244.7" cy="2583.8" r="5.3"/></g>
<g id="n549"><circle cx="244.7" cy="2604" r="5.3"/></g>
<g id="n550"><circle cx="244.7" cy="2624.3" r="5.3"/></g>
<g id="n551"><circle cx="244.7" cy="2644.6" r="5.3"/></g>
<g id="n552"><circle cx="278" cy="2502.7" r="5.3"/></g>
<g id="n553"><circle cx="278" cy="2523" r="5.3"/></g>
<g id="n554"><circle cx="278" cy="2543.2" r="5.3"/></g>
<g id="n555"><circle cx="278" cy="2563.5" r="5.3"/></g>
<g id="n556"><circle cx="278" cy="2583.8" r="5.3"/></g>
<g id="n557"><circle cx="278" cy="2604" r="5.3"/></g>
<g id="n558"><circle cx="211.3" cy="2583.8" r="5.3"/></g>
<g id="n559"><circle cx="211.3" cy="2604" r="5.3"/></g>
<g id="n560"><circle cx="211.3" cy="2624.3" r="5.3"/></g>
<g id="n561"><circle cx="211.3" cy="2644.6" r="5.3"/></g>
<g id="n562"><circle cx="211.3" cy="2664.8" r="5.3"/></g>
<g id="n563"><circle cx="211.3" cy="2685.1" r="5.3"/></g>
<g id="n564"><circle cx="211.3" cy="2705.3" r="5.3"/></g>
<g id="n565"><circle cx="211.3" cy="2725.6" r="5.3"/></g>
<g id="n566"><circle cx="278" cy="2624.3" r="5.3"/></g>
<g id="n567"><circle cx="278" cy="2644.6" r="5.3"/></g>
<g id="n568"><circle cx="262" cy="2664.8" r="5.3"/></g>
<g id="n569"><circle cx="262" cy="2685.1" r="5.3"/></g>
<g id="n570"><circle cx="295.3" cy="2664.8" r="5.3"/></g>
<g id="n571"><circle cx="295.3" cy="2685.1" r="5.3"/></g>
<g id="n572"><circle cx="295.3" cy="2705.3" r="5.3"/></g>
<g id="n573"><circle cx="295.3" cy="2725.6" r="5.3"/></g>
<g id="n574"><circle cx="295.3" cy="2745.9" r="5.3"/></g>
<g id="n575"><circle cx="295.3" cy="2766.1" r="5.3"/></g>
<g id="n576"><circle cx="295.3" cy="2786.4" r="5.3"/></g>
<g id="n577"><circle cx="295.3" cy="2806.7" r="5.3"/></g>
</g>
</svg>
